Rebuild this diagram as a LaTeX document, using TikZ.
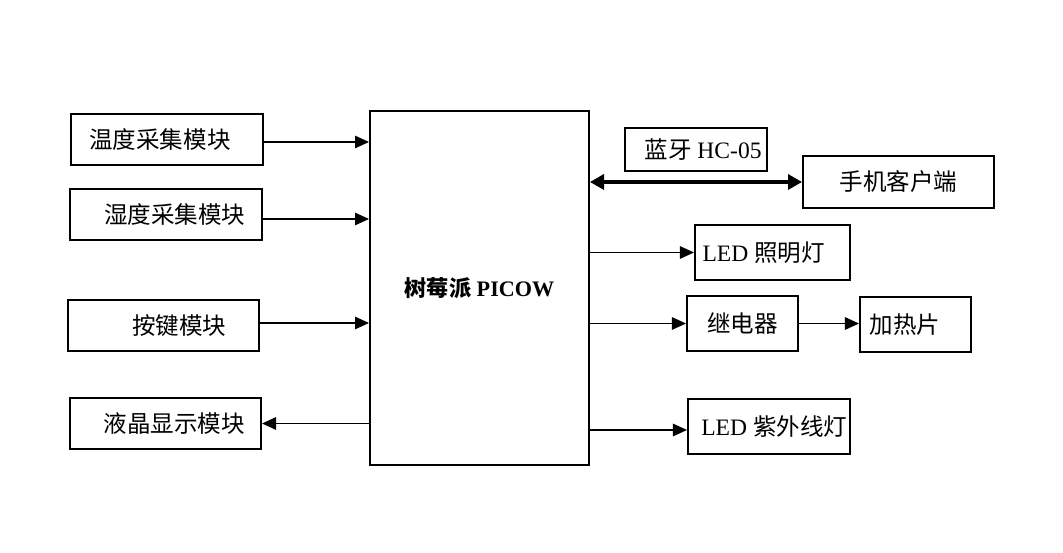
\documentclass[tikz,border=0pt]{standalone}
\usepackage{fontspec}
\setmainfont{Liberation Serif}
\newfontfamily\cjk{Noto Sans CJK SC}
\usetikzlibrary{arrows.meta}
\tikzset{
  blk/.style={draw, line width=1.1pt, inner sep=0pt, font=\fontsize{13.4}{16}\selectfont},
  arr/.style={line width=1.1pt, -{Triangle[length=8pt, width=7pt]}},
  duplex/.style={line width=2.8pt, {Triangle[length=8pt, width=8.5pt]}-{Triangle[length=8pt, width=8.5pt]}}
}
\begin{document}
\begin{tikzpicture}[x=0.02cm, y=-0.02cm]
        \useasboundingbox (0,0) rectangle (1063,553) ;

        % left side
        \node [blk, minimum width=3.84cm, minimum height=1.02cm] (temp) at (167,139.5) {{\cjk 温度采集模块}\hspace*{8pt}} ;
        \node [blk, minimum width=3.84cm, minimum height=1.02cm] (humi) at (166,214.5) {\hspace*{10pt}\cjk 湿度采集模块} ;
        \node [blk, minimum width=3.82cm, minimum height=1.02cm] (keys) at (163.5,325.5) {\hspace*{18pt}\cjk 按键模块} ;
        \node [blk, minimum width=3.82cm, minimum height=1.02cm] (lcd) at (165.5,423.5) {\hspace*{10pt}\cjk 液晶显示模块} ;

        % controller
        \node [blk, minimum width=4.38cm, minimum height=7.08cm, font=\fontsize{12.6}{15}\selectfont\bfseries] (pico) at (479.5,288) {{\cjk 树莓派} PICOW} ;

        % right side
        \node [blk, minimum width=2.84cm, minimum height=0.86cm] (bt) at (696,149.5) {\hspace*{8pt}{\cjk 蓝牙} HC-05} ;
        \node [blk, minimum width=3.82cm, minimum height=1.04cm] (phone) at (898.5,182) {\cjk 手机客户端} ;
        \node [blk, minimum width=3.10cm, minimum height=1.10cm] (lamp) at (772.5,252.5) {LED {\cjk 照明灯}\hspace*{10pt}} ;
        \node [blk, minimum width=2.22cm, minimum height=1.10cm] (relay) at (742.5,323.5) {\cjk 继电器} ;
        \node [blk, minimum width=2.22cm, minimum height=1.10cm] (heat) at (915.5,324.5) {{\cjk 加热片}\hspace*{12pt}} ;
        \node [blk, minimum width=3.24cm, minimum height=1.10cm] (uv) at (769,426.5) {\hspace*{6pt}LED {\cjk 紫外线灯}} ;

        \draw [arr] ([yshift=-.05cm]temp.east) -- ([yshift=-.05cm]temp.east -| pico.west) ;
        \draw [arr] ([yshift=-.09cm]humi.east) -- ([yshift=-.09cm]humi.east -| pico.west) ;
        \draw [arr] ([yshift=.05cm]keys.east) -- ([yshift=.05cm]keys.east -| pico.west) ;
        \draw [arr] (lcd.east -| pico.west) -- (lcd.east) ;

        \draw [duplex] (phone.west -| pico.east) -- (phone.west) ;
        \draw [arr] (lamp.west -| pico.east) -- (lamp.west) ;
        \draw [arr] (relay.west -| pico.east) -- (relay.west) ;
        \draw [arr] (relay.east) -- (heat.west |- relay.east) ;
        \draw [arr] ([yshift=-.07cm]uv.west -| pico.east) -- ([yshift=-.07cm]uv.west) ;
\end{tikzpicture}
\end{document}
